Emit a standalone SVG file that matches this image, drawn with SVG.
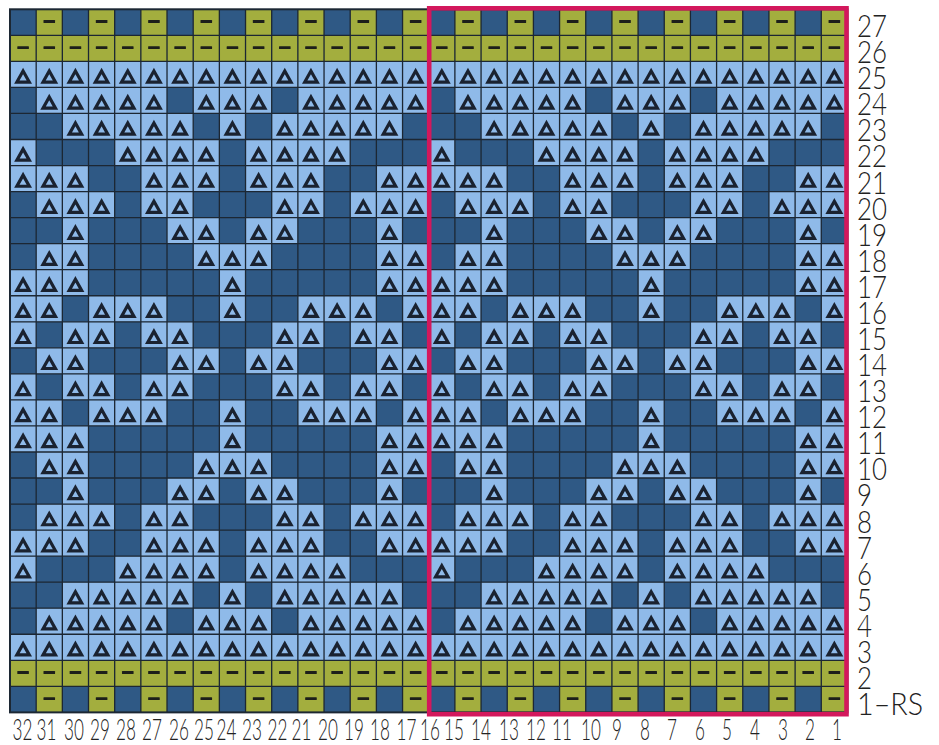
<svg xmlns="http://www.w3.org/2000/svg" xmlns:xlink="http://www.w3.org/1999/xlink" width="939" height="745" viewBox="0 0 939 745">
<style>
.lt{fill:#8fbae9}
.ol{fill:#a3ae3e}
.tri{fill:none;stroke:#1a2230;stroke-width:3.2;stroke-linejoin:miter}
.dash{fill:#1d1f1a}
.grid{fill:none;stroke:#1c2733;stroke-width:1.3}
.lbl{font-family:Lato,"Liberation Sans",sans-serif;font-weight:300;font-size:30.5px;fill:#222}
.bl{text-anchor:middle;font-size:29.5px}
</style>
<defs>
<g id="L"><rect width="26.17" height="26.04" class="lt"/><path d="M13.08 9.6 L19.3 20.7 L6.86 20.7 Z" class="tri"/></g>
<g id="O"><rect width="26.17" height="26.04" class="ol"/><rect x="7.3" y="10.8" width="11.6" height="2.8" rx="0.5" class="dash"/></g>
<g id="hA"><use href="#O" x="0"/><use href="#O" x="26.17"/><use href="#O" x="52.34"/><use href="#O" x="78.51"/><use href="#O" x="104.68"/><use href="#O" x="130.85"/><use href="#O" x="157.02"/><use href="#O" x="183.19"/><use href="#O" x="209.36"/><use href="#O" x="235.53"/><use href="#O" x="261.7"/><use href="#O" x="287.87"/><use href="#O" x="314.04"/><use href="#O" x="340.21"/><use href="#O" x="366.38"/><use href="#O" x="392.55"/></g>
<g id="hB"><use href="#O" x="26.17"/><use href="#O" x="78.51"/><use href="#O" x="130.85"/><use href="#O" x="183.19"/><use href="#O" x="235.53"/><use href="#O" x="287.87"/><use href="#O" x="340.21"/><use href="#O" x="392.55"/></g>
<g id="h25"><use href="#L" x="0"/><use href="#L" x="26.17"/><use href="#L" x="52.34"/><use href="#L" x="78.51"/><use href="#L" x="104.68"/><use href="#L" x="130.85"/><use href="#L" x="157.02"/><use href="#L" x="183.19"/><use href="#L" x="209.36"/><use href="#L" x="235.53"/><use href="#L" x="261.7"/><use href="#L" x="287.87"/><use href="#L" x="314.04"/><use href="#L" x="340.21"/><use href="#L" x="366.38"/><use href="#L" x="392.55"/></g>
<g id="h24"><use href="#L" x="26.17"/><use href="#L" x="52.34"/><use href="#L" x="78.51"/><use href="#L" x="104.68"/><use href="#L" x="130.85"/><use href="#L" x="183.19"/><use href="#L" x="209.36"/><use href="#L" x="235.53"/><use href="#L" x="287.87"/><use href="#L" x="314.04"/><use href="#L" x="340.21"/><use href="#L" x="366.38"/><use href="#L" x="392.55"/></g>
<g id="h23"><use href="#L" x="52.34"/><use href="#L" x="78.51"/><use href="#L" x="104.68"/><use href="#L" x="130.85"/><use href="#L" x="157.02"/><use href="#L" x="209.36"/><use href="#L" x="261.7"/><use href="#L" x="287.87"/><use href="#L" x="314.04"/><use href="#L" x="340.21"/><use href="#L" x="366.38"/></g>
<g id="h22"><use href="#L" x="0"/><use href="#L" x="104.68"/><use href="#L" x="130.85"/><use href="#L" x="157.02"/><use href="#L" x="183.19"/><use href="#L" x="235.53"/><use href="#L" x="261.7"/><use href="#L" x="287.87"/><use href="#L" x="314.04"/></g>
<g id="h21"><use href="#L" x="0"/><use href="#L" x="26.17"/><use href="#L" x="52.34"/><use href="#L" x="130.85"/><use href="#L" x="157.02"/><use href="#L" x="183.19"/><use href="#L" x="235.53"/><use href="#L" x="261.7"/><use href="#L" x="287.87"/><use href="#L" x="366.38"/><use href="#L" x="392.55"/></g>
<g id="h20"><use href="#L" x="26.17"/><use href="#L" x="52.34"/><use href="#L" x="78.51"/><use href="#L" x="130.85"/><use href="#L" x="157.02"/><use href="#L" x="261.7"/><use href="#L" x="287.87"/><use href="#L" x="340.21"/><use href="#L" x="366.38"/><use href="#L" x="392.55"/></g>
<g id="h19"><use href="#L" x="52.34"/><use href="#L" x="157.02"/><use href="#L" x="183.19"/><use href="#L" x="235.53"/><use href="#L" x="261.7"/><use href="#L" x="366.38"/></g>
<g id="h18"><use href="#L" x="26.17"/><use href="#L" x="52.34"/><use href="#L" x="183.19"/><use href="#L" x="209.36"/><use href="#L" x="235.53"/><use href="#L" x="366.38"/><use href="#L" x="392.55"/></g>
<g id="h17"><use href="#L" x="0"/><use href="#L" x="26.17"/><use href="#L" x="52.34"/><use href="#L" x="209.36"/><use href="#L" x="366.38"/><use href="#L" x="392.55"/></g>
<g id="h16"><use href="#L" x="0"/><use href="#L" x="26.17"/><use href="#L" x="78.51"/><use href="#L" x="104.68"/><use href="#L" x="130.85"/><use href="#L" x="209.36"/><use href="#L" x="287.87"/><use href="#L" x="314.04"/><use href="#L" x="340.21"/><use href="#L" x="392.55"/></g>
<g id="h15"><use href="#L" x="0"/><use href="#L" x="52.34"/><use href="#L" x="78.51"/><use href="#L" x="130.85"/><use href="#L" x="157.02"/><use href="#L" x="261.7"/><use href="#L" x="287.87"/><use href="#L" x="340.21"/><use href="#L" x="366.38"/></g>
<g id="h14"><use href="#L" x="26.17"/><use href="#L" x="52.34"/><use href="#L" x="157.02"/><use href="#L" x="183.19"/><use href="#L" x="235.53"/><use href="#L" x="261.7"/><use href="#L" x="366.38"/><use href="#L" x="392.55"/></g>
</defs>
<rect width="939" height="745" fill="#ffffff"/>
<g id="chart">
<rect x="10" y="9.3" width="837.44" height="703.08" fill="#2f5985"/>
<g id="row27"><use href="#hB" x="10" y="9.3"/><use href="#hB" x="428.72" y="9.3"/></g>
<g id="row26"><use href="#hA" x="10" y="35.34"/><use href="#hA" x="428.72" y="35.34"/></g>
<g id="row25"><use href="#h25" x="10" y="61.38"/><use href="#h25" x="428.72" y="61.38"/></g>
<g id="row24"><use href="#h24" x="10" y="87.42"/><use href="#h24" x="428.72" y="87.42"/></g>
<g id="row23"><use href="#h23" x="10" y="113.46"/><use href="#h23" x="428.72" y="113.46"/></g>
<g id="row22"><use href="#h22" x="10" y="139.5"/><use href="#h22" x="428.72" y="139.5"/></g>
<g id="row21"><use href="#h21" x="10" y="165.54"/><use href="#h21" x="428.72" y="165.54"/></g>
<g id="row20"><use href="#h20" x="10" y="191.58"/><use href="#h20" x="428.72" y="191.58"/></g>
<g id="row19"><use href="#h19" x="10" y="217.62"/><use href="#h19" x="428.72" y="217.62"/></g>
<g id="row18"><use href="#h18" x="10" y="243.66"/><use href="#h18" x="428.72" y="243.66"/></g>
<g id="row17"><use href="#h17" x="10" y="269.7"/><use href="#h17" x="428.72" y="269.7"/></g>
<g id="row16"><use href="#h16" x="10" y="295.74"/><use href="#h16" x="428.72" y="295.74"/></g>
<g id="row15"><use href="#h15" x="10" y="321.78"/><use href="#h15" x="428.72" y="321.78"/></g>
<g id="row14"><use href="#h14" x="10" y="347.82"/><use href="#h14" x="428.72" y="347.82"/></g>
<g id="row13"><use href="#h15" x="10" y="373.86"/><use href="#h15" x="428.72" y="373.86"/></g>
<g id="row12"><use href="#h16" x="10" y="399.9"/><use href="#h16" x="428.72" y="399.9"/></g>
<g id="row11"><use href="#h17" x="10" y="425.94"/><use href="#h17" x="428.72" y="425.94"/></g>
<g id="row10"><use href="#h18" x="10" y="451.98"/><use href="#h18" x="428.72" y="451.98"/></g>
<g id="row9"><use href="#h19" x="10" y="478.02"/><use href="#h19" x="428.72" y="478.02"/></g>
<g id="row8"><use href="#h20" x="10" y="504.06"/><use href="#h20" x="428.72" y="504.06"/></g>
<g id="row7"><use href="#h21" x="10" y="530.1"/><use href="#h21" x="428.72" y="530.1"/></g>
<g id="row6"><use href="#h22" x="10" y="556.14"/><use href="#h22" x="428.72" y="556.14"/></g>
<g id="row5"><use href="#h23" x="10" y="582.18"/><use href="#h23" x="428.72" y="582.18"/></g>
<g id="row4"><use href="#h24" x="10" y="608.22"/><use href="#h24" x="428.72" y="608.22"/></g>
<g id="row3"><use href="#h25" x="10" y="634.26"/><use href="#h25" x="428.72" y="634.26"/></g>
<g id="row2"><use href="#hA" x="10" y="660.3"/><use href="#hA" x="428.72" y="660.3"/></g>
<g id="row1"><use href="#hB" x="10" y="686.34"/><use href="#hB" x="428.72" y="686.34"/></g>
<path class="grid" d="M36.17 9.3V712.38M62.34 9.3V712.38M88.51 9.3V712.38M114.68 9.3V712.38M140.85 9.3V712.38M167.02 9.3V712.38M193.19 9.3V712.38M219.36 9.3V712.38M245.53 9.3V712.38M271.7 9.3V712.38M297.87 9.3V712.38M324.04 9.3V712.38M350.21 9.3V712.38M376.38 9.3V712.38M402.55 9.3V712.38M428.72 9.3V712.38M454.89 9.3V712.38M481.06 9.3V712.38M507.23 9.3V712.38M533.4 9.3V712.38M559.57 9.3V712.38M585.74 9.3V712.38M611.91 9.3V712.38M638.08 9.3V712.38M664.25 9.3V712.38M690.42 9.3V712.38M716.59 9.3V712.38M742.76 9.3V712.38M768.93 9.3V712.38M795.1 9.3V712.38M821.27 9.3V712.38M10 35.34H847.44M10 61.38H847.44M10 87.42H847.44M10 113.46H847.44M10 139.5H847.44M10 165.54H847.44M10 191.58H847.44M10 217.62H847.44M10 243.66H847.44M10 269.7H847.44M10 295.74H847.44M10 321.78H847.44M10 347.82H847.44M10 373.86H847.44M10 399.9H847.44M10 425.94H847.44M10 451.98H847.44M10 478.02H847.44M10 504.06H847.44M10 530.1H847.44M10 556.14H847.44M10 582.18H847.44M10 608.22H847.44M10 634.26H847.44M10 660.3H847.44M10 686.34H847.44"/>
<rect x="10" y="9.3" width="837.44" height="703.08" fill="none" stroke="#1c2733" stroke-width="2"/>
</g>
<rect id="repeat-box" x="429.2" y="8.3" width="417.3" height="705.9" fill="none" stroke="#d3185c" stroke-width="4.6"/>
<g id="row-labels" class="lbl">
<text x="857" y="37" textLength="30" lengthAdjust="spacingAndGlyphs">27</text>
<text x="857" y="63.1" textLength="30" lengthAdjust="spacingAndGlyphs">26</text>
<text x="857" y="89.2" textLength="30" lengthAdjust="spacingAndGlyphs">25</text>
<text x="857" y="115.2" textLength="30" lengthAdjust="spacingAndGlyphs">24</text>
<text x="857" y="141.3" textLength="30" lengthAdjust="spacingAndGlyphs">23</text>
<text x="857" y="167.4" textLength="30" lengthAdjust="spacingAndGlyphs">22</text>
<text x="857" y="193.5" textLength="30" lengthAdjust="spacingAndGlyphs">21</text>
<text x="857" y="219.6" textLength="30" lengthAdjust="spacingAndGlyphs">20</text>
<text x="857" y="245.6" textLength="30" lengthAdjust="spacingAndGlyphs">19</text>
<text x="857" y="271.7" textLength="30" lengthAdjust="spacingAndGlyphs">18</text>
<text x="857" y="297.8" textLength="30" lengthAdjust="spacingAndGlyphs">17</text>
<text x="857" y="323.9" textLength="30" lengthAdjust="spacingAndGlyphs">16</text>
<text x="857" y="350" textLength="30" lengthAdjust="spacingAndGlyphs">15</text>
<text x="857" y="376" textLength="30" lengthAdjust="spacingAndGlyphs">14</text>
<text x="857" y="402.1" textLength="30" lengthAdjust="spacingAndGlyphs">13</text>
<text x="857" y="428.2" textLength="30" lengthAdjust="spacingAndGlyphs">12</text>
<text x="857" y="454.3" textLength="30" lengthAdjust="spacingAndGlyphs">11</text>
<text x="857" y="480.4" textLength="30" lengthAdjust="spacingAndGlyphs">10</text>
<text x="857" y="506.4" textLength="15" lengthAdjust="spacingAndGlyphs">9</text>
<text x="857" y="532.5" textLength="15" lengthAdjust="spacingAndGlyphs">8</text>
<text x="857" y="558.6" textLength="15" lengthAdjust="spacingAndGlyphs">7</text>
<text x="857" y="584.7" textLength="15" lengthAdjust="spacingAndGlyphs">6</text>
<text x="857" y="610.8" textLength="15" lengthAdjust="spacingAndGlyphs">5</text>
<text x="857" y="636.8" textLength="15" lengthAdjust="spacingAndGlyphs">4</text>
<text x="857" y="662.9" textLength="15" lengthAdjust="spacingAndGlyphs">3</text>
<text x="857" y="689" textLength="15" lengthAdjust="spacingAndGlyphs">2</text>
<text x="857" y="715.1" textLength="66" lengthAdjust="spacingAndGlyphs">1–RS</text>
</g>
<g id="col-labels" class="lbl bl" transform="scale(0.58,1)">
<text x="38.79" y="740.5">32</text>
<text x="80.17" y="740.5">31</text>
<text x="127.59" y="740.5">30</text>
<text x="172.41" y="740.5">29</text>
<text x="217.24" y="740.5">28</text>
<text x="262.07" y="740.5">27</text>
<text x="308.62" y="740.5">26</text>
<text x="351.72" y="740.5">25</text>
<text x="390.52" y="740.5">24</text>
<text x="434.48" y="740.5">23</text>
<text x="478.45" y="740.5">22</text>
<text x="519.83" y="740.5">21</text>
<text x="565.52" y="740.5">20</text>
<text x="610.34" y="740.5">19</text>
<text x="655.17" y="740.5">18</text>
<text x="700.86" y="740.5">17</text>
<text x="741.38" y="740.5">16</text>
<text x="782.76" y="740.5">15</text>
<text x="829.31" y="740.5">14</text>
<text x="877.59" y="740.5">13</text>
<text x="924.14" y="740.5">12</text>
<text x="968.97" y="740.5">11</text>
<text x="1018.97" y="740.5">10</text>
<text x="1063.79" y="740.5">9</text>
<text x="1112.07" y="740.5">8</text>
<text x="1158.62" y="740.5">7</text>
<text x="1206.9" y="740.5">6</text>
<text x="1253.45" y="740.5">5</text>
<text x="1301.72" y="740.5">4</text>
<text x="1350" y="740.5">3</text>
<text x="1396.55" y="740.5">2</text>
<text x="1443.1" y="740.5">1</text>
</g>
</svg>
